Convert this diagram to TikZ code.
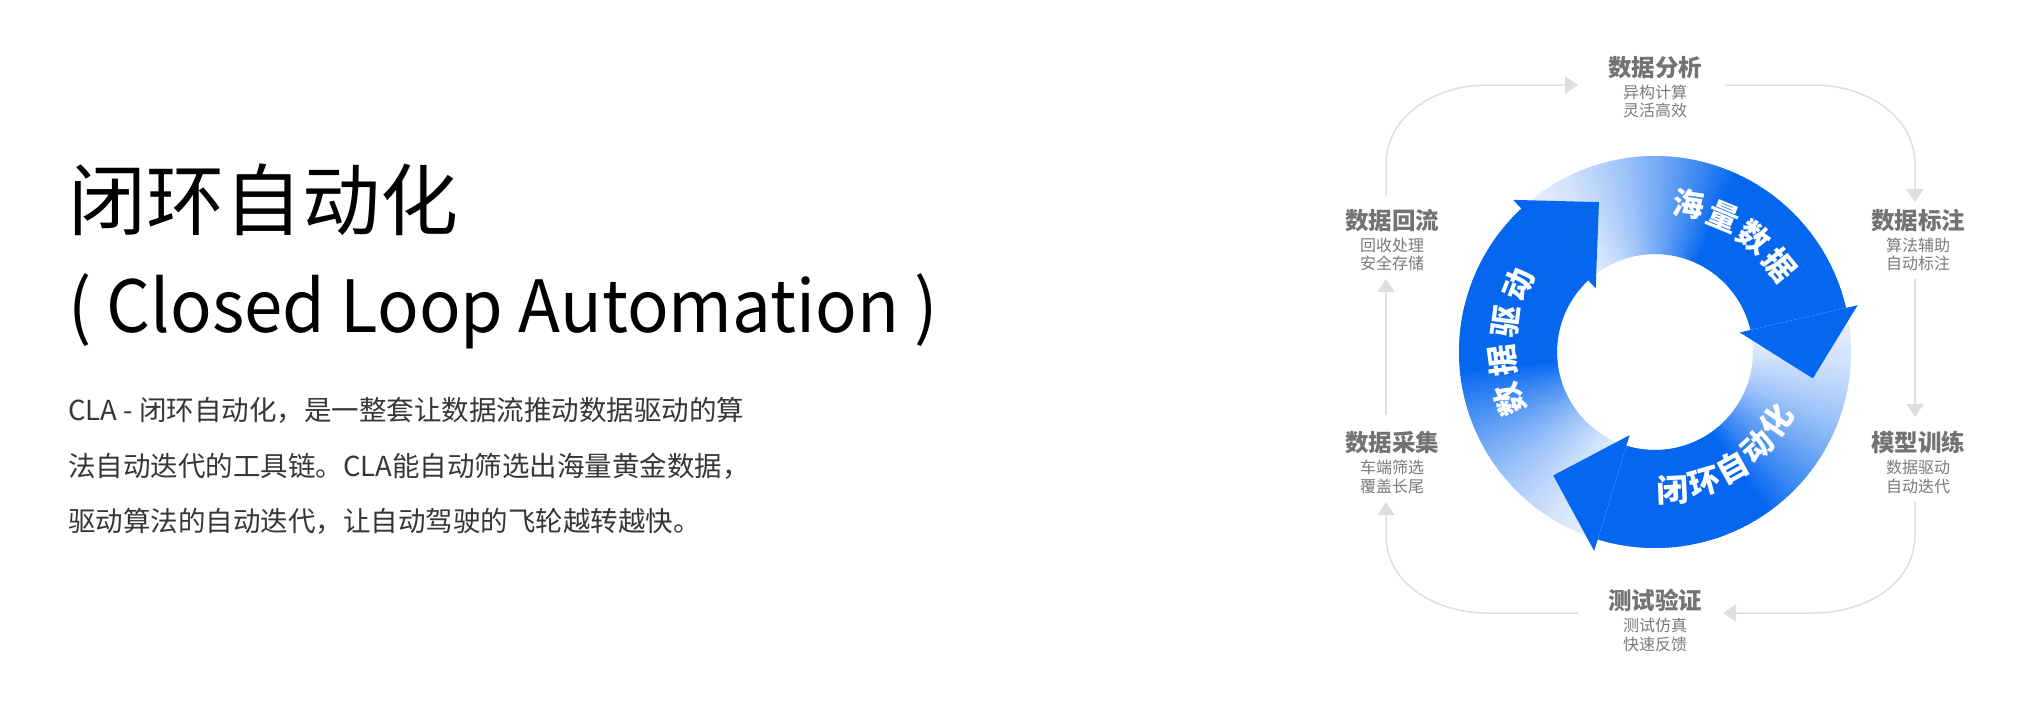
\documentclass[tikz,border=0pt]{standalone}
\usepackage{fontspec}
\setmainfont{Noto Sans CJK SC}
\usetikzlibrary{arrows.meta,calc,positioning}

\definecolor{clablue}{HTML}{0567F0}
\definecolor{clalight}{HTML}{E6EFFD}
\definecolor{stagegray}{HTML}{737373}
\definecolor{subgray}{HTML}{7A7A7A}
\definecolor{linkgray}{HTML}{DEDEDE}
\definecolor{textgray}{HTML}{363636}

\tikzset{
  stagetitle/.style = {anchor=base, inner sep=0pt, text height=0.8em, text depth=0.12em, text=stagegray, font=\fontsize{23.5}{28}\selectfont\bfseries},
  stagesub/.style = {anchor=base, inner sep=0pt, text height=0.8em, text depth=0.12em, text=subgray, font=\fontsize{16}{19}\selectfont},
  link/.style = {draw=linkgray, line width=1.5pt, -{Triangle[width=17pt,length=13pt]}},
  ringtext/.style = {text=white, inner sep=0pt, text height=0.7em, text depth=0em, text width=0.8em, align=center, font=\fontsize{31.5}{32}\selectfont\bfseries},
  para/.style = {anchor=base west, inner sep=0pt, text height=0.8em, text depth=0.12em, text=textgray, font=\fontsize{27.5}{30}\selectfont},
  headline/.style = {anchor=base west, inner sep=0pt, text height=0.8em, text depth=0.12em}
}

\begin{document}
\begin{tikzpicture}[x=1pt, y=1pt]
	\useasboundingbox[fill=white] (0,0) rectangle (2043,-726);

	% left column
	\node[headline, font=\fontsize{78}{80}\selectfont] (title) at (68,-229) {闭环自动化};
	\node[headline, font=\fontsize{72}{80}\selectfont, xscale=0.957] (subtitle) at (68,-332) {( Closed Loop Automation )};
	\node[para] (line1) at (68,-420.5) {CLA - 闭环自动化，是一整套让数据流推动数据驱动的算};
	\node[para] (line2) at (68,-476.5) {法自动迭代的工具链。CLA能自动筛选出海量黄金数据，};
	\node[para] (line3) at (68,-531.5) {驱动算法的自动迭代，让自动驾驶的飞轮越转越快。};

	% ring bodies, light tail to full blue
	\begin{scope}[shift={(1655,-352)}]
		\foreach \tail in {133,13,-107} {
			\foreach \i in {0,...,119} {
				\pgfmathsetmacro\a{\tail-\i}
				\pgfmathsetmacro\b{\a-1.6}
				\pgfmathsetmacro\t{min(1,(\i+1)/68)}
				\pgfmathtruncatemacro\p{100*\t*\t^0.6}
				\fill[clablue!\p!clalight] (\a:196) arc[start angle=\a, end angle=\b, radius=196]
					-- (\b:98) arc[start angle=\b, end angle=\a, radius=98] -- cycle;
			}
		}
		% heads
		\foreach \head in {13,-107,-227} {
			\fill[clablue] (\head:208) -- ({\head-22.5}:160) -- (\head:87) -- cycle;
		}

		\foreach \ch [count=\k from 0] in {海,量,数,据} {
			\pgfmathsetmacro\phi{81.5-14*\k}
			\node[ringtext, rotate=\phi-90] (hl-\k) at (\phi:143) {\ch};
		}
		\foreach \ch [count=\k from 0] in {闭,环,自,动,化} {
			\pgfmathsetmacro\phi{-87.5+13.3*\k}
			\node[ringtext, rotate=\phi+90] (bh-\k) at (\phi:147) {\ch};
		}
		\foreach \ch [count=\k from 0] in {数,据,驱,动} {
			\pgfmathsetmacro\phi{202.5-14.8*\k}
			\node[ringtext, rotate=\phi-90] (qd-\k) at (\phi:144) {\ch};
		}
	\end{scope}

	% stages
	\node[stagetitle] (fenxi) at (1655,-76) {数据分析};
	\node[stagesub] (fenxi-a) at (1655,-98.5) {异构计算};
	\node[stagesub] (fenxi-b) at (1655,-116.5) {灵活高效};

	\node[stagetitle] (biaozhu) at (1918,-229) {数据标注};
	\node[stagesub] (biaozhu-a) at (1918,-251) {算法辅助};
	\node[stagesub] (biaozhu-b) at (1918,-269) {自动标注};

	\node[stagetitle] (xunlian) at (1918,-451) {模型训练};
	\node[stagesub] (xunlian-a) at (1918,-473) {数据驱动};
	\node[stagesub] (xunlian-b) at (1918,-492) {自动迭代};

	\node[stagetitle] (yanzheng) at (1655,-609) {测试验证};
	\node[stagesub] (yanzheng-a) at (1655,-631) {测试仿真};
	\node[stagesub] (yanzheng-b) at (1655,-650) {快速反馈};

	\node[stagetitle] (caiji) at (1392,-451) {数据采集};
	\node[stagesub] (caiji-a) at (1392,-473) {车端筛选};
	\node[stagesub] (caiji-b) at (1392,-492) {覆盖长尾};

	\node[stagetitle] (huiliu) at (1392,-229) {数据回流};
	\node[stagesub] (huiliu-a) at (1392,-251) {回收处理};
	\node[stagesub] (huiliu-b) at (1392,-269) {安全存储};

	% connector ends
	\coordinate (huiliu-out) at (1386,-195);
	\coordinate (fenxi-in) at (1578,-85);
	\coordinate (fenxi-out) at (1725,-85);
	\coordinate (biaozhu-in) at (1915,-202);
	\coordinate (biaozhu-out) at (1915,-279);
	\coordinate (xunlian-in) at (1915,-417);
	\coordinate (xunlian-out) at (1915,-502);
	\coordinate (yanzheng-in) at (1723,-613);
	\coordinate (yanzheng-out) at (1578,-613);
	\coordinate (caiji-in) at (1386,-502);
	\coordinate (caiji-out) at (1386,-415);
	\coordinate (huiliu-in) at (1386,-279);

	\draw[link] (huiliu-out) -- ++(0,30) to[out=90,in=180] (1487,-85) -- (fenxi-in);
	\draw[link] (fenxi-out) -- (1814,-85) to[out=0,in=90] (1915,-165) -- (biaozhu-in);
	\draw[link] (biaozhu-out) -- (xunlian-in);
	\draw[link] (xunlian-out) -- ++(0,-33) to[out=-90,in=0] (1814,-613) -- (yanzheng-in);
	\draw[link] (yanzheng-out) -- (1487,-613) to[out=180,in=-90] (1386,-535) -- (caiji-in);
	\draw[link] (caiji-out) -- (huiliu-in);
\end{tikzpicture}
\end{document}
